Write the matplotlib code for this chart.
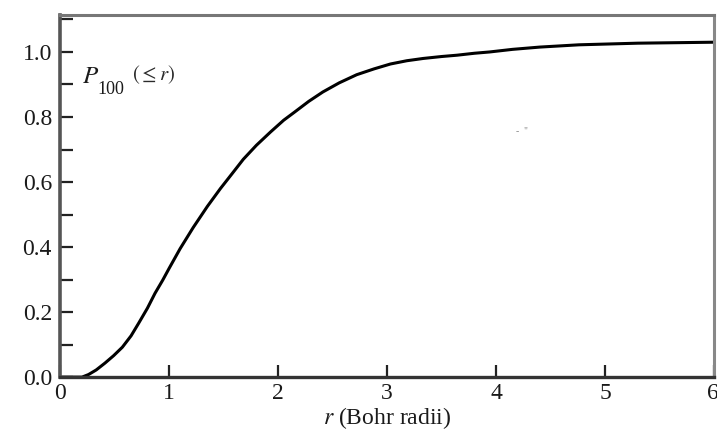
import matplotlib
matplotlib.use("Agg")
import matplotlib.pyplot as plt
from matplotlib.ticker import MultipleLocator, FixedLocator
from matplotlib.transforms import offset_copy

# Cumulative radial probability of the hydrogen ground state, read point by point
r_bohr = [0.0, 0.2, 0.26, 0.33, 0.41, 0.49, 0.57, 0.65, 0.72, 0.8, 0.87, 0.94,
          1.0, 1.1, 1.22, 1.35, 1.47, 1.58, 1.68, 1.8, 1.93, 2.05, 2.15, 2.28,
          2.41, 2.56, 2.72, 2.88, 3.03, 3.18, 3.33, 3.5, 3.64, 3.8, 3.94, 4.15,
          4.4, 4.76, 5.3, 6.0]
p_cum = [0.0, 0.0, 0.008, 0.022, 0.043, 0.066, 0.092, 0.127, 0.166, 0.212,
         0.258, 0.298, 0.335, 0.395, 0.46, 0.525, 0.58, 0.627, 0.67, 0.713,
         0.754, 0.79, 0.815, 0.848, 0.877, 0.905, 0.93, 0.948, 0.963, 0.973,
         0.98, 0.986, 0.99, 0.996, 1.0, 1.008, 1.015, 1.022, 1.027, 1.03]

x_ticks = [0, 1, 2, 3, 4, 5, 6]
x_tick_labels = ["0", "1", "2", "3", "4", "5", "6"]
y_ticks = [0.0, 0.2, 0.4, 0.6, 0.8, 1.0]
y_tick_labels = ["0.0", "0.2", "0.4", "0.6", "0.8", "1.0"]

plt.rcParams["font.family"] = ["Liberation Serif", "DejaVu Serif"]
plt.rcParams["mathtext.fontset"] = "stix"

fig = plt.figure(figsize=(7.17, 4.38), dpi=100)
ax = fig.add_axes([0.084, 0.139, 0.912, 0.827])

ax.plot(r_bohr, p_cum, color="black", lw=2.2, solid_capstyle="round",
        solid_joinstyle="round")

ax.set_xlim(0, 6)
ax.set_ylim(0, 1.114)

ax.xaxis.set_major_locator(FixedLocator(x_ticks))
ax.set_xticklabels(x_tick_labels)
ax.yaxis.set_major_locator(FixedLocator(y_ticks))
ax.set_yticklabels(y_tick_labels)
ax.yaxis.set_minor_locator(MultipleLocator(0.1))

ax.tick_params(axis="both", which="both", direction="in", length=9,
               width=1.6, color="#222222", labelsize=17, labelcolor="#1a1a1a")
ax.tick_params(axis="x", pad=4)
ax.tick_params(axis="y", pad=6)
ax.tick_params(top=False, right=False)

# the last x label sits hard against the right edge; pull it in a little
last = ax.get_xticklabels()[-1]
last.set_ha("right")
last.set_transform(offset_copy(last.get_transform(), fig=fig, x=3, y=0,
                               units="points"))

for side, col, lw in [("left", "#555555", 2.6), ("bottom", "#333333", 2.4),
                      ("top", "#777777", 2.2), ("right", "#888888", 2.2)]:
    ax.spines[side].set_color(col)
    ax.spines[side].set_linewidth(lw)

ax.set_xlabel(r"$r$ (Bohr radii)", fontsize=17, color="#1a1a1a", labelpad=1)

ax.text(0.2, 0.905, r"$P$", fontsize=18, color="#1a1a1a",
        ha="left", va="baseline")
ax.text(0.345, 0.87, "100", fontsize=13, color="#1a1a1a",
        ha="left", va="baseline")
ax.text(0.66, 0.912, r"$(\leq r)$", fontsize=15, color="#2a2a2a",
        ha="left", va="baseline")

ax.text(4.18, 0.755, "-  ''", fontsize=7, color="#888888",
        ha="left", va="center")

fig.savefig("out.png", dpi=100)
